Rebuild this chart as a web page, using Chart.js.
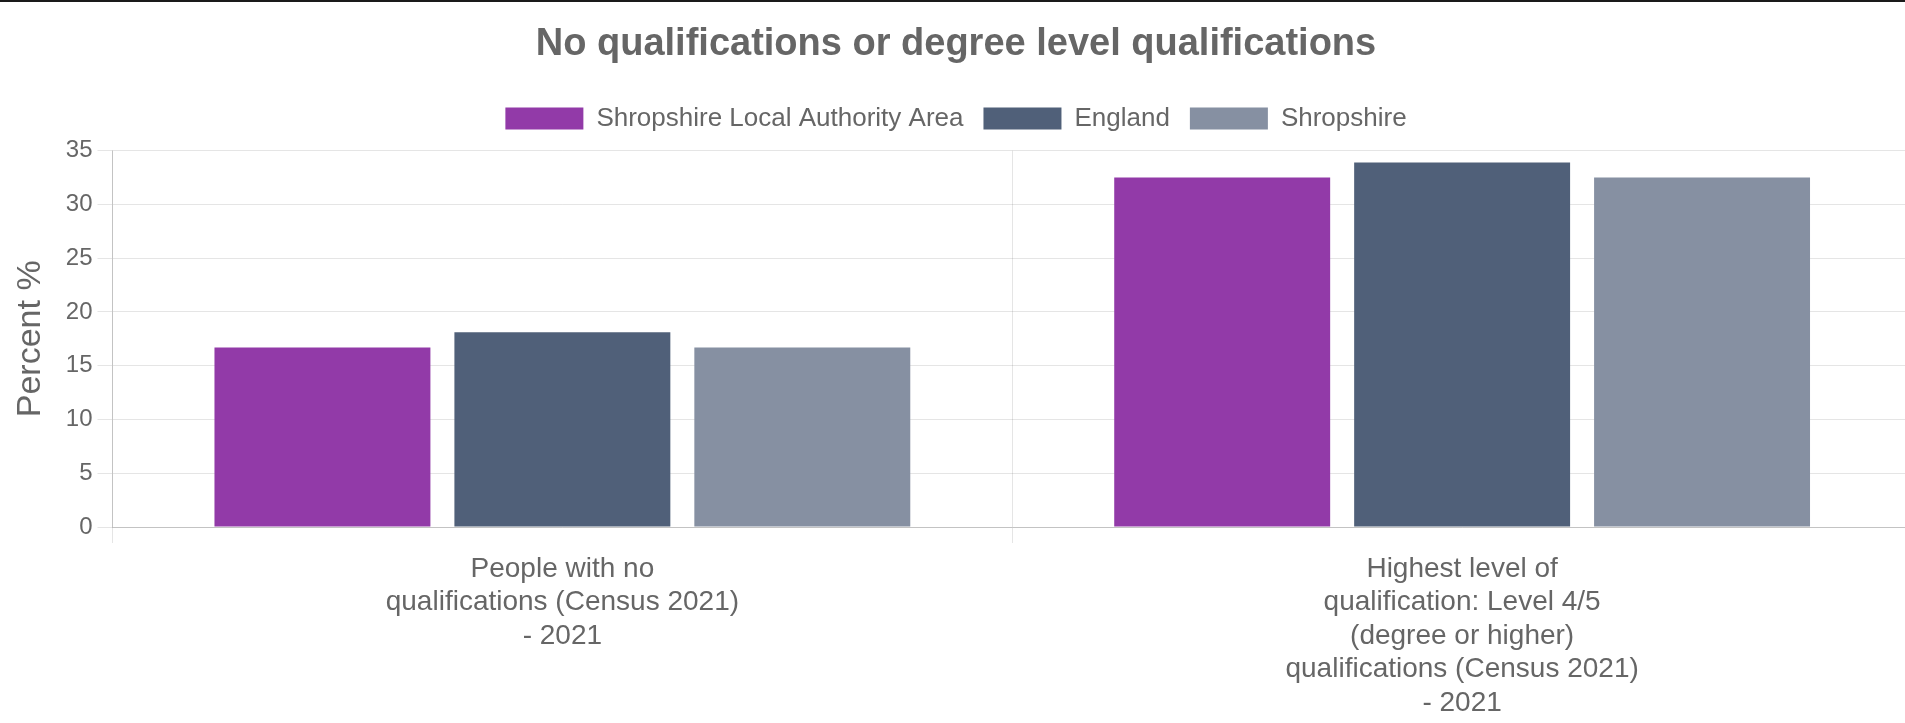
<!DOCTYPE html>
<html>
<head>
<meta charset="utf-8">
<script src="https://cdn.jsdelivr.net/npm/chart.js@4"></script>
<style>
    html, body { margin: 0; padding: 0; background: #fff; overflow: hidden; height: 723px; }
    body { border-top: 2px solid #1a1a1a; box-sizing: border-box; }
    #wrap { position: relative; width: 1912px; height: 727px; }
</style>
</head>
<body>
<div id="wrap"><canvas id="qualChart"></canvas></div>
<script>
// categories (multi-line labels as shown on the axis)
const categories = [
    ['People with no', 'qualifications (Census 2021)', '- 2021'],
    ['Highest level of', 'qualification: Level 4/5', '(degree or higher)', 'qualifications (Census 2021)', '- 2021']
];
const seriesNames = ['Shropshire Local Authority Area', 'England', 'Shropshire'];
const shropshireLAA = [16.7, 32.5];
const england = [18.1, 33.9];
const shropshire = [16.7, 32.5];
const yTicks = [0, 5, 10, 15, 20, 25, 30, 35];

const colors = ['#923aa8', '#506079', '#8690a2'];
const FONT = "'Liberation Sans', Arial, Helvetica, sans-serif";

Chart.defaults.font.family = FONT;
Chart.defaults.color = '#666';

// a bit more room under the legend
const legendGap = {
    id: 'legendGap',
    beforeInit(chart) {
        const fit = chart.legend.fit;
        chart.legend.fit = function () {
            fit.bind(chart.legend)();
            this.height += 9;
        };
    }
};

const ctx = document.getElementById('qualChart').getContext('2d');
new Chart(ctx, {
    type: 'bar',
    data: {
        labels: categories,
        datasets: [shropshireLAA, england, shropshire].map((vals, i) => ({
            label: seriesNames[i],
            data: vals,
            backgroundColor: colors[i],
            borderWidth: 0
        }))
    },
    options: {
        responsive: true,
        maintainAspectRatio: false,
        animation: false,
        layout: { padding: 0 },
        plugins: {
            title: {
                display: true,
                text: 'No qualifications or degree level qualifications',
                color: '#666',
                font: { size: 38, weight: 'bold' },
                padding: { top: 20, bottom: 18 }
            },
            legend: {
                position: 'top',
                labels: {
                    boxWidth: 78,
                    boxHeight: 22,
                    padding: 20,
                    color: '#666',
                    font: { size: 26 }
                }
            },
            tooltip: { enabled: false }
        },
        scales: {
            x: {
                grid: { color: 'rgba(0,0,0,0.1)', tickLength: 16, offset: true },
                border: { color: 'rgba(0,0,0,0.15)' },
                ticks: { color: '#666', font: { size: 28 }, padding: 9, maxRotation: 0, autoSkip: false }
            },
            y: {
                min: yTicks[0],
                max: yTicks[yTicks.length - 1],
                afterBuildTicks: (axis) => { axis.ticks = yTicks.map(v => ({ value: v })); },
                grid: { color: 'rgba(0,0,0,0.1)', tickLength: 15 },
                border: { color: 'rgba(0,0,0,0.15)' },
                ticks: { color: '#666', font: { size: 24 }, padding: 5 },
                title: {
                    display: true,
                    text: 'Percent %',
                    color: '#666',
                    font: { size: 34 },
                    padding: { top: 10, bottom: 10 }
                }
            }
        }
    },
    plugins: [legendGap]
});
</script>
</body>
</html>
